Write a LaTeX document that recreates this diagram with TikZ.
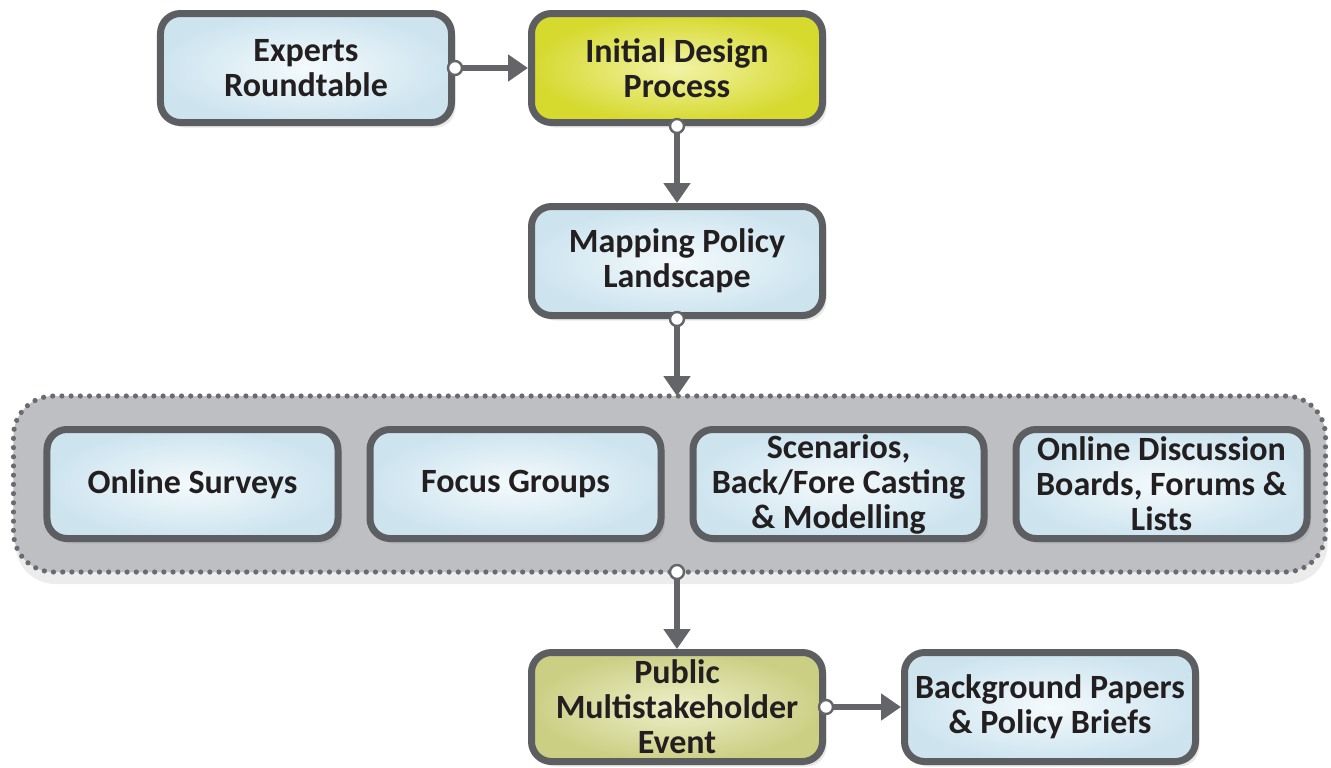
\documentclass[tikz,border=0pt]{standalone}
\usepackage{fontspec}
\setmainfont{Carlito}
\usetikzlibrary{positioning,arrows.meta,shadows,fit,backgrounds}
\definecolor{boxline}{HTML}{5D5E61}
\definecolor{arrowcol}{HTML}{646568}
\definecolor{blueIn}{HTML}{F4FAFC}
\definecolor{blueOut}{HTML}{CDE4EF}
\definecolor{yellowIn}{HTML}{F2F3A6}
\definecolor{yellowOut}{HTML}{D6D92E}
\definecolor{oliveIn}{HTML}{EEEFC9}
\definecolor{oliveOut}{HTML}{CBCF84}
\definecolor{groupfill}{HTML}{BEBFC3}
\definecolor{dotcol}{HTML}{6A6B6E}
\definecolor{textcol}{HTML}{231F20}
\begin{document}
\begin{tikzpicture}[node distance={38pt},
  main/.style = {draw=boxline, line width=3.5pt, rounded corners=10pt, minimum width=145.5pt, minimum height=54.5pt, inner sep=1pt, align=center, text=textcol, font=\bfseries\fontsize{17}{17.5}\selectfont, drop shadow={opacity=0.18, shadow xshift=2pt, shadow yshift=-2.5pt}},
  bluebox/.style = {main, inner color=blueIn, outer color=blueOut},
  yellowbox/.style = {main, inner color=yellowIn, outer color=yellowOut},
  olivebox/.style = {main, inner color=oliveIn, outer color=oliveOut},
  group/.style = {draw=dotcol, fill=groupfill, line width=2.6pt, dash pattern=on 0pt off 4.6pt, line cap=round, rounded corners=20pt, inner sep=0pt, outer sep=0pt, drop shadow={opacity=0.15, shadow xshift=1pt, shadow yshift=-6pt}},
  link/.style = {draw=arrowcol, line width=3pt, -{Triangle[length=10pt, width=13pt]}},
  dot/.style = {circle, draw=arrowcol, fill=white, line width=1.2pt, inner sep=0pt, minimum size=7pt}]
  \node[bluebox] (1) {Experts\\Roundtable};
  \useasboundingbox ([shift={(-78.5pt,5pt)}]1.north west) rectangle ++(665.5pt,-383.5pt);
  \node[yellowbox] (2) [right=36.5pt of 1] {Initial Design\\Process};
  \node[bluebox] (3) [below=38.5pt of 2] {Mapping Policy\\Landscape};
  \node[bluebox] (5) [below left=53.5pt and 6.25pt of 3.south] {Focus Groups};
  \node[bluebox] (4) [left=12.5pt of 5] {Online Surveys};
  \node[bluebox] (6) [right=12.5pt of 5] {Scenarios,\\Back/Fore Casting\\\& Modelling};
  \node[bluebox] (7) [right=12.5pt of 6] {Online Discussion\\Boards, Forums \&\\Lists};
  % grey frame behind the four methods
  \coordinate (a) at ([shift={(-15pt,15pt)}]4.north west);
  \coordinate (b) at ([shift={(7.5pt,-15pt)}]7.south east);
  \begin{scope}[on background layer]
    \node[group, fit=(a)(b)] (8) {};
  \end{scope}
  \coordinate (c) at (8.south -| 3);
  \node[olivebox] (9) [below=38.5pt of c] {Public\\Multistakeholder\\Event};
  \node[bluebox] (10) [right=37.5pt of 9] {Background Papers\\\& Policy Briefs};
  \path
  (1) edge[link] node[dot, pos=0] {} (2)
  (2) edge[link] node[dot, pos=0] {} (3)
  (3) edge[link] node[dot, pos=0] {} (3 |- 8.north)
  (c) edge[link] node[dot, pos=0] {} (9)
  (9) edge[link] node[dot, pos=0] {} (10);
\end{tikzpicture}
\end{document}
